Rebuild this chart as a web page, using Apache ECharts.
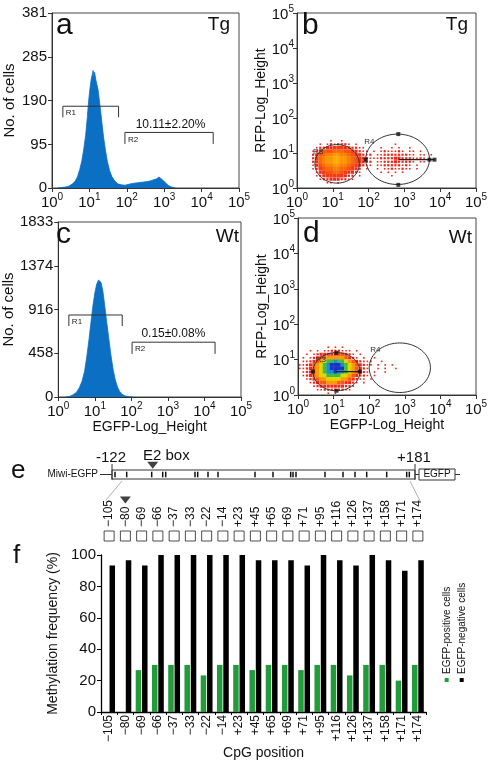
<!DOCTYPE html>
<html><head><meta charset="utf-8">
<script src="https://cdn.jsdelivr.net/npm/echarts@6.0.0/dist/echarts.min.js"></script>
<style>html,body{margin:0;padding:0;background:#fff}#c{width:491px;height:762px}</style>
</head><body><div id="c"></div>
<script>
// ================= DATA =================
// Panel a (Tg) histogram: x in log10 decades of EGFP height, y = number of cells
const histA_x = [0.15,0.25,0.35,0.45,0.55,0.62,0.68,0.74,0.80,0.85,0.90,0.94,0.98,1.02,1.05,1.08,1.10,1.12,1.14,1.17,1.20,1.23,1.26,1.30,1.34,1.38,1.43,1.48,1.54,1.60,1.68,1.76,1.85,1.95,2.05,2.15,2.25,2.35,2.45,2.55,2.65,2.72,2.80,2.86,2.92,2.98,3.05,3.12,3.20,3.30];
const histA_y = [0,1,2,4,9,15,24,40,60,85,115,150,190,220,238,248,256,240,252,236,232,215,195,168,138,110,82,58,38,25,15,9,7,6,8,10,11,12,13,14,16,18,20,24,20,16,10,5,2,0];
const histA_ticks = [0,95,190,285,381];
// Panel c (Wt) histogram
const histC_x = [0.20,0.30,0.40,0.50,0.58,0.65,0.72,0.78,0.84,0.90,0.95,1.00,1.05,1.10,1.13,1.17,1.22,1.27,1.32,1.38,1.44,1.50,1.56,1.62,1.68,1.74,1.82,1.92,2.05];
const histC_y = [0,5,22,50,100,165,270,420,600,800,960,1090,1180,1225,1235,1200,1110,960,800,620,440,290,180,105,58,30,12,4,0];
const histC_ticks = [0,458,916,1374,1833];
const decadeTicks = [0,1,2,3,4,5];
// Histogram gates: [x1, x2, top, tickEnd]
const gateNamesHist = ['R1','R2'];
const gatesA = [[0.29,1.78,178,154],[1.95,4.31,121,96]];
const gatesC = [[0.29,1.75,859,744],[2.02,4.29,574,452]];
const pctA = {text:'10.11\u00b12.20%', x:3.17, y:137};
const pctC = {text:'0.15\u00b10.08%', x:3.15, y:668};
// Dot-plot density (rows top->bottom, y centre from 1.35 decade in 0.1 steps; col j -> x=0.05+0.1j; digit = density level)
const densB = [
"         1  1",
"      1 1212221 1          1",
"     12233444332211    1  1 1  1",
"    1235556665543211 1 1211121 11 1",
"    23567788776543212 11222222211 11 1",
"    24678899887654321112222332221121",
"    23678899887654322 11222322221 11",
"    13567788776543211 1122222121 1",
"    12456677665432 1  1 11211211 1",
"     1345566543321     1 1 1 1",
"     12344444322 1        1",
"      1223332211",
"        11 1",
""];
const densD = [
"        1 1 1",
"   1 1 11222111 1",
"  1 123333344321 1",
" 1 12344555554321 1  1",
" 11234567787765432111  1",
"112345678999876543211 1 1 1",
"11234567899997654321  1 1  1",
" 1234567889887654321 1  1",
" 1234566777766543221 1",
"  12345566665543211 1",
"   12344555443321 1",
"    123333333221",
"     1122222211",
"        1 1"];
// Gates (ellipses): [cx, cy, rx, ry, labelX, labelY] in decades
const gateNamesDot = ['R3','R4'];
const ellB = [[1.12,0.69,0.62,0.55,0.59,1.04],[2.81,0.82,0.89,0.72,2.02,1.33]];
const ellD = [[1.08,0.66,0.66,0.54,0.64,1.00],[2.86,0.77,0.86,0.70,2.17,1.29]];
const handlesB = [[1.92,0.81],[3.70,0.81],[3.84,0.81],[2.83,1.54],[2.83,0.09]];
const handleLineB = [[2.83,0.81],[3.84,0.81]];
const handlesD = [[0.42,0.66],[1.74,0.66],[1.08,1.19],[1.08,0.12]];
const handleLineD = [[1.08,0.66],[1.74,0.66]];
// Panel e schematic (schematic units along the construct)
const schemBoxes = [[-122,181,1,10],[185,221,0,11]];
const schemLines = [[-134,5.5,-122,5.5],[181,5.5,185,5.5],[221,5.5,226,5.5],[-122,0,-122,16],[181,0,181,16]];
const schemMarks = [-119,-107.3,-82.3,-71.3,-68.3,-39,-36.3,-26,-16,21,39,56.7,59,62,91,109,121,132.7,152.7,172.7,175.3];
const e2Box = -81.3;
// Panel f
const cpgPositions = ['\u2212105','\u221280','\u221269','\u221266','\u221237','\u221233','\u221222','\u221214','+23','+45','+65','+69','+71','+95','+116','+126','+137','+158','+171','+174'];
const methPos = [0,0,26.7,30,30,30,23.3,30,30,26.7,30,30,26.7,30,30,23.3,30,30,20,30];
const methNeg = [93.3,96.7,93.3,100,100,100,100,100,100,96.7,96.7,96.7,93.3,100,96.7,93.3,100,96.7,90,96.7];
const methTicks = [0,20,40,60,80,100];
const seriesNames = ['EGFP-positive cells','EGFP-negative cells'];

// ================= STYLE =================
const FONT = '"Liberation Sans", Arial, sans-serif';
const AX = '#333';
const TXT = '#111';
const BLUE = '#0b6fc3';
const GREEN = '#229b3b';
const palB = {1:'#f02418',2:'#f02418',3:'#f02a1a',4:'#f23a17',5:'#f65210',6:'#f9690b',7:'#fb8006',8:'#fc9704',9:'#fdab02'};
const palD = {1:'#f02418',2:'#f02418',3:'#f02a1a',4:'#f65a10',5:'#fb9a06',6:'#e6d400',7:'#3cbf3c',8:'#1a8fd0',9:'#1832c4'};
const dotSize = {1:1.6,2:2.2,3:3.1,4:3.6,5:3.9,6:3.9,7:3.9,8:3.9,9:3.9};

const supRich = {
  b:{fontSize:15, fontFamily:FONT, color:TXT, verticalAlign:'bottom', lineHeight:18},
  s:{fontSize:10, fontFamily:FONT, color:TXT, verticalAlign:'top', lineHeight:10}
};
function decAxis(gridIndex, extra){
  return Object.assign({
    type:'value', gridIndex, min:0, max:5, interval:1,
    axisLine:{show:true, lineStyle:{color:AX, width:1}},
    axisTick:{show:true, length:4, lineStyle:{color:AX}},
    axisLabel:{formatter:v=>'{b|10}{s|'+decadeTicks[v]+'}', rich:supRich, margin:4},
    splitLine:{show:false}
  }, extra||{});
}
function countAxis(gridIndex, max, ticks){
  return {
    type:'value', gridIndex, min:0, max:max,
    name:'No. of cells', nameLocation:'middle', nameGap:35,
    nameTextStyle:{fontSize:15, fontFamily:FONT, color:TXT},
    axisLine:{show:true, lineStyle:{color:AX}},
    axisTick:{show:true, length:4, customValues:ticks, lineStyle:{color:AX}},
    axisLabel:{customValues:ticks, formatter:v=>String(Math.round(v)), fontSize:15, fontFamily:FONT, color:TXT, margin:5},
    splitLine:{show:false}
  };
}
function buildDensity(rows){
  const out=[];
  rows.forEach((r,i)=>{ const y=1.35-0.1*i; for(let j=0;j<r.length;j++){ const ch=r[j]; if(ch!==' '){ out.push([0.05+0.1*j, y, +ch]); } } });
  return out;
}
function densSeries(idx, rows, pal){
  return {type:'scatter', xAxisIndex:idx, yAxisIndex:idx, data:buildDensity(rows), symbol:'rect', silent:true,
    symbolSize:(v)=> dotSize[v[2]],
    itemStyle:{color:(p)=>pal[p.value[2]], opacity:1}, z:2};
}
function ellSeries(idx, data){
  return {type:'custom', xAxisIndex:idx, yAxisIndex:idx, data:data, silent:true, z:4,
    renderItem:(params, api)=>{
      const cx=api.value(0), cy=api.value(1), rx=api.value(2), ry=api.value(3);
      const pts=[]; for(let k=0;k<=72;k++){ const t=k/72*2*Math.PI; pts.push(api.coord([cx+rx*Math.cos(t), cy+ry*Math.sin(t)])); }
      const lp=api.coord([api.value(4), api.value(5)]);
      return {type:'group', children:[
        {type:'polyline', shape:{points:pts}, style:{stroke:'#333', lineWidth:1, fill:null}},
        {type:'text', x:lp[0], y:lp[1], style:{text:gateNamesDot[params.dataIndex], fontSize:8, fontFamily:FONT, fill:'#333', align:'center', verticalAlign:'middle', textAlign:'center', textVerticalAlign:'middle'}}
      ]};
    }};
}
function gateSeries(idx, data, pct){
  return [{type:'custom', xAxisIndex:idx, yAxisIndex:idx, data:data, silent:true, z:4,
    renderItem:(params, api)=>{
      const x1=api.value(0), x2=api.value(1), yT=api.value(2), yB=api.value(3);
      const p1=api.coord([x1,yB]), p2=api.coord([x1,yT]), p3=api.coord([x2,yT]), p4=api.coord([x2,yB]);
      return {type:'group', children:[
        {type:'polyline', shape:{points:[p1,p2,p3,p4]}, style:{stroke:'#333', lineWidth:1, fill:null}},
        {type:'text', x:p2[0]+3, y:p2[1]+3, style:{text:gateNamesHist[params.dataIndex], fontSize:8, fontFamily:FONT, fill:'#222', align:'left', verticalAlign:'top', textAlign:'left', textVerticalAlign:'top'}}
      ]};
    }},
    {type:'custom', xAxisIndex:idx, yAxisIndex:idx, data:[[pct.x, pct.y]], silent:true, z:4,
    renderItem:(params, api)=>{
      const p=api.coord([api.value(0), api.value(1)]);
      return {type:'text', x:p[0], y:p[1], style:{text:pct.text, fontSize:12, fontFamily:FONT, fill:TXT, align:'center', verticalAlign:'middle', textAlign:'center', textVerticalAlign:'middle'}};
    }}];
}
function handleSeries(idx, pts, line){
  return [
    {type:'line', xAxisIndex:idx, yAxisIndex:idx, data:line, symbol:'none', silent:true, lineStyle:{color:'#222', width:1.2}, z:5},
    {type:'scatter', xAxisIndex:idx, yAxisIndex:idx, data:pts, symbol:'rect', symbolSize:4, silent:true, itemStyle:{color:'#111'}, z:6}
  ];
}

const grids = [
  {left:52, top:13, width:187, height:175, show:true, borderColor:'#444', borderWidth:1},
  {left:297, top:13, width:179, height:175, show:true, borderColor:'#444', borderWidth:1},
  {left:52, top:222, width:189, height:175, show:true, borderColor:'#444', borderWidth:1},
  {left:298, top:218, width:178, height:177, show:true, borderColor:'#444', borderWidth:1},
  {left:100, top:464, width:360, height:16},
  {left:101, top:530, width:325, height:12},
  {left:101, top:555, width:325, height:157}
];
const xAxes = [
  decAxis(0), decAxis(1),
  decAxis(2, {name:'EGFP-Log_Height', nameLocation:'middle', nameGap:23, nameTextStyle:{fontSize:14, fontFamily:FONT, color:TXT}}),
  decAxis(3, {name:'EGFP-Log_Height', nameLocation:'middle', nameGap:23, nameTextStyle:{fontSize:14, fontFamily:FONT, color:TXT}}),
  {type:'value', gridIndex:4, min:-134, max:226, show:false},
  {type:'category', gridIndex:5, data:cpgPositions, position:'top', axisLine:{show:false}, axisTick:{show:false},
    axisLabel:{rotate:90, fontSize:12, fontFamily:FONT, color:TXT, margin:3, interval:0}},
  {type:'category', gridIndex:6, data:cpgPositions, axisLine:{lineStyle:{color:'#000', width:1.3}}, axisTick:{show:true, length:3, lineStyle:{color:'#000'}},
    axisLabel:{rotate:90, fontSize:12, fontFamily:FONT, color:TXT, margin:3, interval:0},
    name:'CpG position', nameLocation:'middle', nameGap:29, nameTextStyle:{fontSize:14, fontFamily:FONT, color:TXT}}
];
const logYName = {name:'RFP-Log_Height', nameLocation:'middle', nameGap:24, nameTextStyle:{fontSize:14, fontFamily:FONT, color:TXT}};
const yAxes = [
  countAxis(0, 381, histA_ticks),
  decAxis(1, Object.assign({axisLabel:{formatter:v=>'{b|10}{s|'+decadeTicks[v]+'}', rich:supRich, margin:3}}, logYName)),
  countAxis(2, 1833, histC_ticks),
  decAxis(3, Object.assign({axisLabel:{formatter:v=>'{b|10}{s|'+decadeTicks[v]+'}', rich:supRich, margin:3}}, logYName)),
  {type:'value', gridIndex:4, min:0, max:16, show:false},
  {type:'value', gridIndex:5, min:0, max:1, show:false},
  {type:'value', gridIndex:6, min:0, max:100, interval:20,
    name:'Methylation frequency (%)', nameLocation:'middle', nameGap:29, nameTextStyle:{fontSize:14, fontFamily:FONT, color:TXT},
    axisLine:{show:true, lineStyle:{color:'#000', width:1.3}}, axisTick:{show:true, length:4, lineStyle:{color:'#000'}},
    axisLabel:{fontSize:15, fontFamily:FONT, color:TXT, margin:5}, splitLine:{show:false}}
];

const series = [
  {type:'line', xAxisIndex:0, yAxisIndex:0, data:histA_x.map((x,i)=>[x,histA_y[i]]), symbol:'none', silent:true,
    lineStyle:{color:BLUE, width:0.8}, areaStyle:{color:BLUE, opacity:1}, z:2},
  ...gateSeries(0, gatesA, pctA),
  {type:'line', xAxisIndex:2, yAxisIndex:2, data:histC_x.map((x,i)=>[x,histC_y[i]]), symbol:'none', silent:true,
    lineStyle:{color:BLUE, width:0.8}, areaStyle:{color:BLUE, opacity:1}, z:2},
  ...gateSeries(2, gatesC, pctC),
  densSeries(1, densB, palB),
  ellSeries(1, ellB),
  ...handleSeries(1, handlesB, handleLineB),
  densSeries(3, densD, palD),
  ellSeries(3, ellD),
  ...handleSeries(3, handlesD, handleLineD),
  // schematic boxes
  {type:'custom', xAxisIndex:4, yAxisIndex:4, data:schemBoxes, silent:true, clip:false, z:2,
    renderItem:(params, api)=>{
      const a=api.coord([api.value(0), api.value(3)]), b=api.coord([api.value(1), api.value(2)]);
      return {type:'rect', shape:{x:a[0], y:a[1], width:b[0]-a[0], height:b[1]-a[1]}, style:{fill:'#fff', stroke:'#333', lineWidth:1}};
    }},
  {type:'custom', xAxisIndex:4, yAxisIndex:4, data:schemLines, silent:true, clip:false, z:2,
    renderItem:(params, api)=>{
      const a=api.coord([api.value(0), api.value(1)]), b=api.coord([api.value(2), api.value(3)]);
      return {type:'line', shape:{x1:a[0], y1:a[1], x2:b[0], y2:b[1]}, style:{stroke:'#333', lineWidth:1}};
    }},
  {type:'custom', xAxisIndex:4, yAxisIndex:4, data:schemMarks.map(v=>[v]), silent:true, clip:false, z:3,
    renderItem:(params, api)=>{
      const a=api.coord([api.value(0), 2.7]), b=api.coord([api.value(0), 8.3]);
      return {type:'line', shape:{x1:a[0], y1:a[1], x2:b[0], y2:b[1]}, style:{stroke:'#111', lineWidth:1.5}};
    }},
  {type:'scatter', xAxisIndex:4, yAxisIndex:4, data:[[e2Box, 14.8]], symbol:'triangle', symbolRotate:180, symbolSize:[11,7], clip:false, silent:true, itemStyle:{color:'#111'}},
  // label row boxes + -80 triangle
  {type:'scatter', xAxisIndex:5, yAxisIndex:5, data:cpgPositions.map((c,i)=>[i,0.5]), symbol:'rect', symbolSize:10, silent:true,
    itemStyle:{color:'#fff', borderColor:'#222', borderWidth:1}},
  {type:'scatter', xAxisIndex:5, yAxisIndex:5, data:[[1,3.5]], symbol:'triangle', symbolRotate:180, symbolSize:[11,7], clip:false, silent:true, itemStyle:{color:'#111'}},
  // panel f bars
  {type:'bar', name:seriesNames[0], xAxisIndex:6, yAxisIndex:6, data:methPos, barWidth:5.5, barGap:'15%', itemStyle:{color:GREEN}, silent:true},
  {type:'bar', name:seriesNames[1], xAxisIndex:6, yAxisIndex:6, data:methNeg, barWidth:5.5, barGap:'15%', itemStyle:{color:'#000'}, silent:true}
];

function txt(x,y,t,size,align,extra){
  return Object.assign({type:'text', x:x, y:y, z:100, silent:true, style:{text:t, fontSize:size, fontFamily:FONT, fill:TXT,
    align:align||'left', verticalAlign:'middle', textAlign:align||'left', textVerticalAlign:'middle'}}, extra||{});
}
const graphics = [
  txt(56,26,'a',30), txt(302,26,'b',30), txt(56,235,'c',30), txt(303,234,'d',30),
  txt(230,25,'Tg',19,'right'), txt(468,25,'Tg',19,'right'),
  txt(239,237,'Wt',19,'right'), txt(472,238,'Wt',19,'right'),
  txt(11,471,'e',26), txt(13,556,'f',26),
  txt(111,458,'-122',15,'center'), txt(414,458,'+181',15,'center'), txt(143,456,'E2 box',15,'left'),
  txt(98,474,'Miwi-EGFP',10,'right'), txt(437,474.5,'EGFP',10,'center'),
  {type:'line', z:100, silent:true, shape:{x1:122,y1:481,x2:106,y2:500}, style:{stroke:'#999', lineWidth:0.8}},
  {type:'line', z:100, silent:true, shape:{x1:410,y1:481,x2:420,y2:501}, style:{stroke:'#999', lineWidth:0.8}},
  {type:'rect', z:100, silent:true, shape:{x:444.7, y:678, width:4, height:4}, style:{fill:GREEN}},
  {type:'rect', z:100, silent:true, shape:{x:459.7, y:678, width:4, height:4}, style:{fill:'#000'}},
  txt(447,674,seriesNames[0],10,'left',{rotation:Math.PI/2}),
  txt(462,674,seriesNames[1],10,'left',{rotation:Math.PI/2})
];

const chart = echarts.init(document.getElementById('c'), null, {renderer:'canvas', width:491, height:762});
chart.setOption({
  animation:false, backgroundColor:'#fff',
  grid:grids, xAxis:xAxes, yAxis:yAxes, series:series, graphic:graphics
});
</script>
</body></html>
